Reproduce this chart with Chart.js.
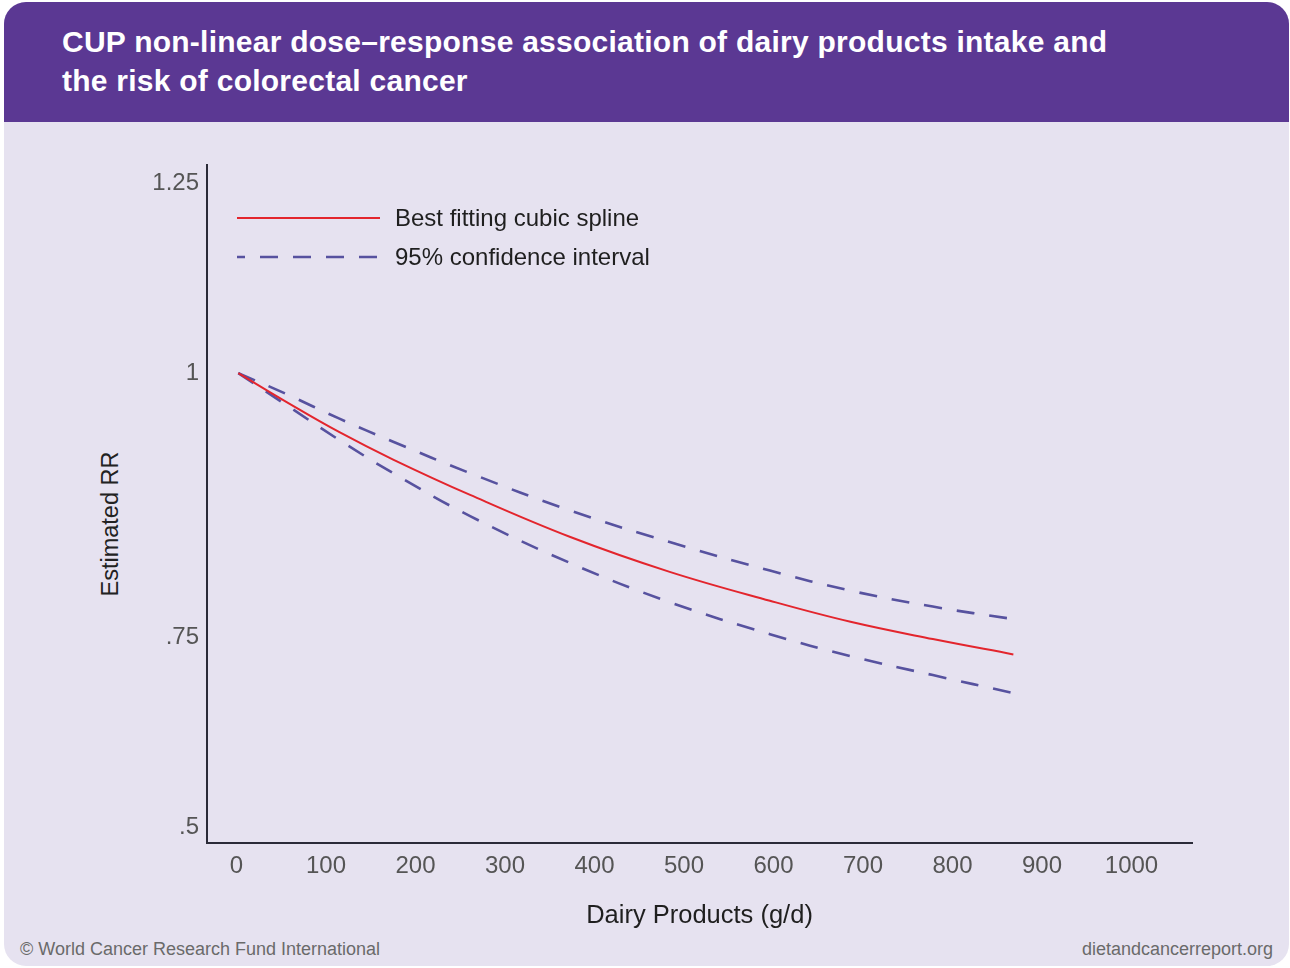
<!DOCTYPE html>
<html>
<head>
<meta charset="utf-8">
<script src="https://cdn.jsdelivr.net/npm/chart.js@4.4.1/dist/chart.umd.min.js"></script>
<style>
  html, body { margin: 0; padding: 0; background: #ffffff; }
  body { width: 1290px; height: 968px; position: relative; overflow: hidden; font-family: "Liberation Sans", Arial, sans-serif; }
  .card { position: absolute; left: 4px; top: 2px; width: 1285px; height: 964px; border-radius: 22px; background: #e6e2f0; overflow: hidden; }
  .header { position: absolute; left: 0; top: 0; width: 100%; height: 120px; background: #5b3893; }
  .header h1 { margin: 0; position: absolute; left: 58px; top: 20px; font: bold 30px/39px "Liberation Sans", Arial, sans-serif; color: #ffffff; letter-spacing: 0.25px; }
  .ytitle { position: absolute; left: 110px; top: 524px; transform: translate(-50%, -50%) rotate(-90deg); font: 23.5px "Liberation Sans", Arial, sans-serif; color: #222222; white-space: nowrap; }
  .foot { position: absolute; top: 939px; font: 18px "Liberation Sans", Arial, sans-serif; color: #6a6a6a; white-space: nowrap; }
  .foot.left { left: 20px; }
  .foot.right { right: 17px; }
  #chart { position: absolute; left: 0; top: 0; }
</style>
</head>
<body>
<div class="card">
  <div class="header"><h1>CUP non-linear dose–response association of dairy products intake and<br>the risk of colorectal cancer</h1></div>
</div>
<div class="ytitle">Estimated RR</div>
<div class="foot left">© World Cancer Research Fund International</div>
<div class="foot right">dietandcancerreport.org</div>
<canvas id="chart" width="1290" height="968"></canvas>
<script>
// Dairy intake (g/d) and estimated relative risks
const doseGd   = [2, 56, 115, 175, 261, 373, 484, 596, 686, 778, 868];
const rrSpline = [1.0, 0.9726, 0.9441, 0.9182, 0.8847, 0.8448, 0.8118, 0.7844, 0.7645, 0.7474, 0.7272];
const rrUpper  = [1.0, 0.9801, 0.9569, 0.9351, 0.9053, 0.8698, 0.8400, 0.8130, 0.7940, 0.7789, 0.7670];
const rrLower  = [1.0, 0.9697, 0.9366, 0.9053, 0.8646, 0.8201, 0.7831, 0.7528, 0.7250, 0.7000, 0.6763];

const xTickValues = [0, 100, 200, 300, 400, 500, 600, 700, 800, 900, 1000];
const yTickValues = [0.5, 0.75, 1, 1.25];
const yTickLabels = ['.5', '.75', '1', '1.25'];

const seriesLabels = ['Best fitting cubic spline', '95% confidence interval'];

// Value axis whose bands between knot values get their own relative heights
class BandedScale extends Chart.LinearScale {
  static id = 'banded';
  static defaults = {};
  _unit(v) {
    const k = this.options.knots, w = this.options.spans;
    const n = k.length;
    if (v <= k[0]) return (v - k[0]) / (k[1] - k[0]) * w[0];
    let acc = 0;
    for (let i = 0; i < n - 1; i++) {
      if (v <= k[i + 1] || i === n - 2) {
        return acc + (v - k[i]) / (k[i + 1] - k[i]) * w[i];
      }
      acc += w[i];
    }
    return acc;
  }
  getPixelForValue(value) {
    const u0 = this._unit(this.min), u1 = this._unit(this.max);
    return this.bottom - (this._unit(value) - u0) / (u1 - u0) * (this.bottom - this.top);
  }
  getValueForPixel(pixel) {
    let lo = this.min, hi = this.max;
    for (let i = 0; i < 40; i++) {
      const mid = (lo + hi) / 2;
      if (this.getPixelForValue(mid) > pixel) lo = mid; else hi = mid;
    }
    return (lo + hi) / 2;
  }
}
Chart.register(BandedScale);

const toPoints = ys => doseGd.map((x, i) => ({ x, y: ys[i] }));

const RED = '#e3252d';
const BLUE = '#57529f';
const DASH = [18, 15];

// Legend drawn inside the plot area, upper left
const insideLegend = {
  id: 'insideLegend',
  afterDatasetsDraw(chart) {
    const { ctx, chartArea } = chart;
    const x0 = chartArea.left + 30, x1 = chartArea.left + 173, tx = chartArea.left + 188;
    const rows = [
      { y: chartArea.top + 53, ds: chart.data.datasets[0], text: seriesLabels[0] },
      { y: chartArea.top + 92, ds: chart.data.datasets[1], text: seriesLabels[1] }
    ];
    ctx.save();
    rows.forEach(r => {
      ctx.beginPath();
      ctx.strokeStyle = r.ds.borderColor;
      ctx.lineWidth = r.ds.borderWidth;
      ctx.setLineDash(r.ds.borderDash || []);
      ctx.lineDashOffset = 10;
      ctx.moveTo(x0, r.y);
      ctx.lineTo(x1, r.y);
      ctx.stroke();
      ctx.setLineDash([]);
      ctx.fillStyle = '#1f1f1f';
      ctx.font = '24px "Liberation Sans", Arial, sans-serif';
      ctx.textBaseline = 'middle';
      ctx.textAlign = 'left';
      ctx.fillText(r.text, tx, r.y + 1);
    });
    ctx.restore();
  }
};

const lineStyle = { pointRadius: 0, tension: 0.4 };

new Chart(document.getElementById('chart'), {
  type: 'line',
  data: {
    datasets: [
      { label: seriesLabels[0], data: toPoints(rrSpline), borderColor: RED, borderWidth: 2, ...lineStyle },
      { label: seriesLabels[1], data: toPoints(rrUpper), borderColor: BLUE, borderWidth: 2.6, borderDash: DASH, ...lineStyle },
      { label: seriesLabels[1], data: toPoints(rrLower), borderColor: BLUE, borderWidth: 2.6, borderDash: DASH, ...lineStyle }
    ]
  },
  options: {
    responsive: false,
    animation: false,
    devicePixelRatio: 1,
    layout: { padding: { left: 80, right: 98, top: 165, bottom: 30 } },
    plugins: { legend: { display: false }, tooltip: { enabled: false } },
    scales: {
      x: {
        type: 'linear',
        min: -33, max: 1067.6,
        afterBuildTicks: s => { s.ticks = xTickValues.map(v => ({ value: v })); },
        afterFit: s => { s.height = 95; },
        grid: { drawOnChartArea: false, drawTicks: false, color: 'transparent' },
        border: { display: true, color: '#2b2b38', width: 2 },
        ticks: {
          padding: 9, color: '#555555', font: { family: '"Liberation Sans", Arial, sans-serif', size: 24 },
          maxRotation: 0, autoSkip: false,
          callback: v => String(v)
        },
        title: { display: true, text: 'Dairy Products (g/d)', color: '#1f1f1f', font: { family: '"Liberation Sans", Arial, sans-serif', size: 25.5 }, padding: { top: 0, bottom: 7 } }
      },
      y: {
        type: 'banded',
        min: 0.479, max: 1.274,
        knots: [0.5, 0.75, 1, 1.25],
        spans: [190, 264, 190],
        afterBuildTicks: s => { s.ticks = yTickValues.map(v => ({ value: v })); },
        afterFit: s => { s.width = 127; },
        grid: { drawOnChartArea: false, drawTicks: false, color: 'transparent' },
        border: { display: true, color: '#2b2b38', width: 2 },
        ticks: {
          padding: 8, color: '#555555', font: { family: '"Liberation Sans", Arial, sans-serif', size: 24 },
          callback: (v, i) => yTickLabels[i]
        }
      }
    }
  },
  plugins: [insideLegend]
});
</script>
</body>
</html>
